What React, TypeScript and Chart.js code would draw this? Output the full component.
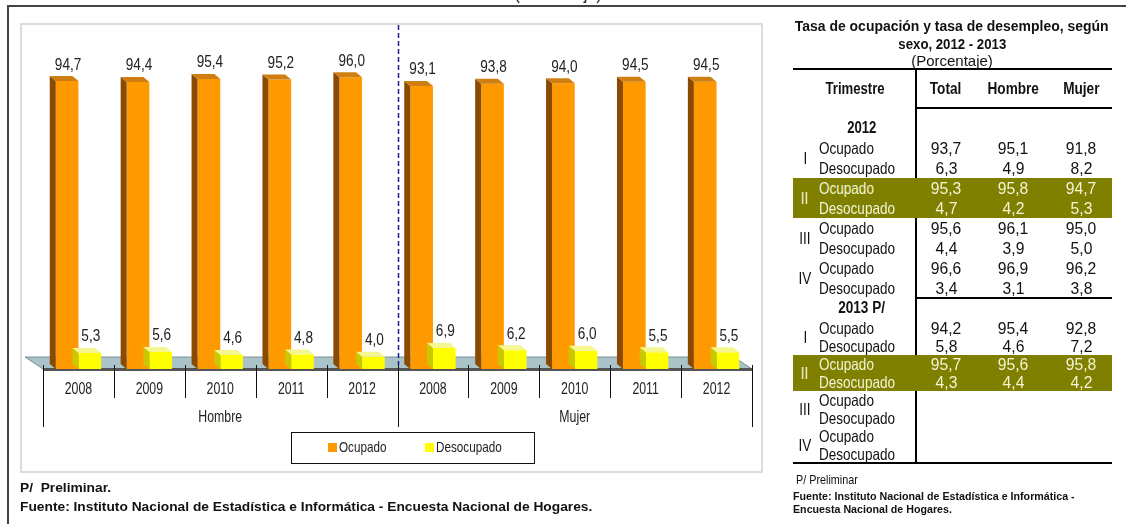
import React, { useEffect, useRef } from "react";
import { Chart, registerables } from "chart.js";

Chart.register(...registerables);

// ---------- DATA ----------
const years = ["2008", "2009", "2010", "2011", "2012", "2008", "2009", "2010", "2011", "2012"];
const groups = ["Hombre", "Mujer"];
const seriesNames = ["Ocupado", "Desocupado"];
const ocupado = [94.7, 94.4, 95.4, 95.2, 96.0, 93.1, 93.8, 94.0, 94.5, 94.5];
const desocupado = [5.3, 5.6, 4.6, 4.8, 4.0, 6.9, 6.2, 6.0, 5.5, 5.5];

const tableCols = ["Total", "Hombre", "Mujer"];
const quarters = ["I", "II", "III", "IV"];
const rowNames = ["Ocupado", "Desocupado"];
const ocup2012 = [[93.7, 95.1, 91.8], [95.3, 95.8, 94.7], [95.6, 96.1, 95.0], [96.6, 96.9, 96.2]];
const desoc2012 = [[6.3, 4.9, 8.2], [4.7, 4.2, 5.3], [4.4, 3.9, 5.0], [3.4, 3.1, 3.8]];
const ocup2013 = [[94.2, 95.4, 92.8], [95.7, 95.6, 95.8]];
const desoc2013 = [[5.8, 4.6, 7.2], [4.3, 4.4, 4.2]];

const SANS = "'Liberation Sans', Arial, sans-serif";
const fmt = (v: number) => v.toFixed(1).replace(".", ",");

const colors = {
  front: ["#ff9900", "#ffff00"],
  side: ["#8a4a00", "#c9c900"],
  top: ["#cf7f12", "#f6f690"],
};

function drawText(ctx: any, text: string, x: number, y: number, size: number, sx: number, align: string, baseline: string, color = "#222", bold = false) {
  ctx.save();
  ctx.translate(x, y);
  ctx.scale(sx, 1);
  ctx.font = `${bold ? "bold " : ""}${size}px ${SANS}`;
  ctx.fillStyle = color;
  ctx.textAlign = align;
  ctx.textBaseline = baseline;
  ctx.fillText(text, 0, 0);
  ctx.restore();
}

const threeD = {
  id: "threeD",
  beforeDatasetsDraw(chart: any) {
    const { ctx, chartArea: ca } = chart;
    const yF = ca.bottom, yB = ca.bottom - 12, sh = 18;
    ctx.save();
    ctx.beginPath();
    ctx.moveTo(ca.left - sh, yB);
    ctx.lineTo(ca.right - sh, yB);
    ctx.lineTo(ca.right, yF);
    ctx.lineTo(ca.left, yF);
    ctx.closePath();
    ctx.fillStyle = "#a9c3c8";
    ctx.fill();
    ctx.strokeStyle = "#7a9095";
    ctx.lineWidth = 1;
    ctx.stroke();
    ctx.fillStyle = "#555";
    ctx.fillRect(ca.left, yF - 1, ca.right - ca.left, 3);
    ctx.restore();
  },
  afterDatasetsDraw(chart: any) {
    const { ctx } = chart;
    const dx = 6, dy = 5;
    ctx.save();
    chart.data.datasets.forEach((ds: any, di: number) => {
      const meta = chart.getDatasetMeta(di);
      meta.data.forEach((bar: any, i: number) => {
        const { x, y, width, base } = bar.getProps(["x", "y", "width", "base"], true);
        const l = x - width / 2, r = x + width / 2;
        ctx.beginPath();
        ctx.moveTo(l, y);
        ctx.lineTo(l, base);
        ctx.lineTo(l - dx, base - dy);
        ctx.lineTo(l - dx, y - dy);
        ctx.closePath();
        ctx.fillStyle = colors.side[di];
        ctx.fill();
        ctx.beginPath();
        ctx.moveTo(l, y);
        ctx.lineTo(r, y);
        ctx.lineTo(r - dx, y - dy);
        ctx.lineTo(l - dx, y - dy);
        ctx.closePath();
        ctx.fillStyle = colors.top[di];
        ctx.fill();
        drawText(ctx, fmt(ds.data[i]), x + 1, y - dy - 3, 16, 0.85, "center", "bottom");
      });
    });
    ctx.restore();
  },
  afterDraw(chart: any) {
    const { ctx, chartArea: ca } = chart;
    const xs = chart.scales.x;
    const labels = xs.getLabels();
    const n = labels.length;
    const per = n / groups.length;
    ctx.save();
    ctx.strokeStyle = "#111";
    ctx.lineWidth = 1;
    for (let i = 0; i <= n; i++) {
      const px = Math.round(xs.getPixelForValue(i - 0.5)) + 0.5;
      const isGroup = i % per === 0;
      ctx.beginPath();
      ctx.moveTo(px, ca.bottom - 4);
      ctx.lineTo(px, ca.bottom + (isGroup ? 58 : 29));
      ctx.stroke();
    }
    // category labels
    labels.forEach((lab: string, i: number) => {
      drawText(ctx, lab, xs.getPixelForTick(i), ca.bottom + 21, 16, 0.77, "center", "middle");
    });
    // dashed separator between groups
    const sep = Math.round(xs.getPixelForValue(per - 0.5)) + 0.5;
    ctx.strokeStyle = "#1a1a8c";
    ctx.lineWidth = 1.5;
    ctx.setLineDash([5, 3]);
    ctx.beginPath();
    ctx.moveTo(sep, 25);
    ctx.lineTo(sep, ca.bottom - 4);
    ctx.stroke();
    ctx.setLineDash([]);
    // group labels
    groups.forEach((g, gi) => {
      const a = xs.getPixelForValue(gi * per - 0.5);
      const b = xs.getPixelForValue((gi + 1) * per - 0.5);
      drawText(ctx, g, (a + b) / 2, ca.bottom + 49, 16, 0.77, "center", "middle");
    });
    // legend box
    const bx = 291, by = 432, bw = 243, bh = 31;
    ctx.strokeStyle = "#111";
    ctx.lineWidth = 1;
    ctx.strokeRect(bx + 0.5, by + 0.5, bw, bh);
    const items = [bx + 37, bx + 134];
    chart.data.datasets.forEach((ds: any, di: number) => {
      const lx = items[di];
      ctx.fillStyle = ds.backgroundColor;
      ctx.fillRect(lx, by + 11, 9, 9);
      drawText(ctx, ds.label, lx + 11, by + 16, 15, 0.78, "left", "middle");
    });
    ctx.restore();
  },
};

function N({ x, y, size = 16, sx = 1, align = "left", bold = false, color = "#111", children }: any) {
  const h = Math.round(size * 1.25);
  const W = 700;
  const left = align === "center" ? x - W / 2 : align === "right" ? x - W : x;
  return (
    <div
      style={{
        position: "absolute",
        left,
        top: y - h / 2,
        width: W,
        height: h,
        lineHeight: `${h}px`,
        textAlign: align,
        fontWeight: bold ? 700 : 400,
        fontSize: size,
        color,
        whiteSpace: "nowrap",
      }}
    >
      <span style={{ display: "inline-block", transform: `scaleX(${sx})`, transformOrigin: align === "center" ? "center" : align === "right" ? "right" : "left" }}>
        {children}
      </span>
    </div>
  );
}

const colX = [946, 1013, 1081];

function QuarterRows({ q, y0, gap, ocup, desoc, hl }: any) {
  const c = hl ? "#f3f3d6" : "#111";
  return (
    <>
      {hl && (
        <div style={{ position: "absolute", left: 793, top: y0 - gap / 2, width: 319, height: gap * 2, background: "#808000" }} />
      )}
      <N x={805} y={y0 + gap / 2} size={16.5} sx={0.82} align="center" color={c}>{q}</N>
      <N x={819} y={y0} size={16.5} sx={0.82} color={c}>{rowNames[0]}</N>
      <N x={819} y={y0 + gap} size={16.5} sx={0.82} color={c}>{rowNames[1]}</N>
      {ocup && ocup.map((v: number, k: number) => (
        <N key={"o" + k} x={colX[k]} y={y0} size={16.5} sx={0.95} align="center" color={c}>{fmt(v)}</N>
      ))}
      {desoc && desoc.map((v: number, k: number) => (
        <N key={"d" + k} x={colX[k]} y={y0 + gap} size={16.5} sx={0.95} align="center" color={c}>{fmt(v)}</N>
      ))}
    </>
  );
}

export default function App() {
  const ref = useRef<HTMLCanvasElement>(null);
  useEffect(() => {
    const chart = new Chart(ref.current as HTMLCanvasElement, {
      type: "bar",
      data: {
        labels: years,
        datasets: [
          { label: seriesNames[0], data: ocupado, backgroundColor: colors.front[0] },
          { label: seriesNames[1], data: desocupado, backgroundColor: colors.front[1] },
        ],
      },
      options: {
        responsive: false,
        animation: false,
        layout: { padding: { left: 43, right: 28, top: 65, bottom: 0 } },
        datasets: { bar: { categoryPercentage: 0.64, barPercentage: 1 } },
        plugins: { legend: { display: false }, tooltip: { enabled: false } },
        scales: {
          x: {
            grid: { display: false },
            border: { display: false },
            ticks: { display: false },
            afterFit: (s: any) => { s.height = 155; },
          },
          y: { display: false, min: 0, max: 100 },
        },
      },
      plugins: [threeD],
    });
    return () => chart.destroy();
  }, []);

  return (
    <div style={{ position: "absolute", left: 0, top: 0, width: 1126, height: 524, background: "#fff", overflow: "hidden", fontFamily: SANS, color: "#111" }}>
      {/* outer frame */}
      <div style={{ position: "absolute", left: 7, top: 5, width: 1125, height: 530, borderLeft: "2px solid #444", borderTop: "2px solid #444" }} />
      <N x={558} y={-5} size={16} sx={1} align="center">(Porcentaje)</N>
      {/* chart panel */}
      <div style={{ position: "absolute", left: 20, top: 23, width: 739, height: 446, border: "2px solid #dcdcdc" }} />
      <canvas ref={ref} width={780} height={524} style={{ position: "absolute", left: 0, top: 0 }} />
      {/* notes */}
      <N x={20} y={487} bold size={13.5} sx={1.02}>P/&nbsp; Preliminar.</N>
      <N x={20} y={506} bold size={13.5} sx={1.02}>Fuente: Instituto Nacional de Estadística e Informática - Encuesta Nacional de Hogares.</N>

      {/* table */}
      <N x={952} y={25} align="center" bold size={15} sx={0.93}>Tasa de ocupación y tasa de desempleo, según</N>
      <N x={952} y={43} align="center" bold size={15} sx={0.88}>sexo, 2012 - 2013</N>
      <N x={952} y={60} align="center" size={15} sx={1}>(Porcentaje)</N>
      <div style={{ position: "absolute", left: 793, top: 68, width: 319, height: 2, background: "#000" }} />
      <div style={{ position: "absolute", left: 915, top: 69, width: 2, height: 395, background: "#000" }} />
      <div style={{ position: "absolute", left: 916, top: 107, width: 196, height: 2, background: "#000" }} />
      <N x={855} y={89} align="center" bold size={16} sx={0.82}>Trimestre</N>
      {tableCols.map((c, k) => (
        <N key={c} x={colX[k]} y={89} align="center" bold size={16} sx={0.85}>{c}</N>
      ))}
      <N x={862} y={128} align="center" bold size={16} sx={0.82}>2012</N>
      {quarters.map((q, k) => (
        <QuarterRows key={"a" + q} q={q} y0={148 + 40 * k} gap={20} ocup={ocup2012[k]} desoc={desoc2012[k]} hl={k === 1} />
      ))}
      <div style={{ position: "absolute", left: 916, top: 297, width: 196, height: 2, background: "#000" }} />
      <N x={862} y={308} align="center" bold size={16} sx={0.85}>2013 P/</N>
      {quarters.map((q, k) => (
        <QuarterRows key={"b" + q} q={q} y0={328 + 36 * k} gap={18} ocup={ocup2013[k]} desoc={desoc2013[k]} hl={k === 1} />
      ))}
      <div style={{ position: "absolute", left: 793, top: 462, width: 319, height: 2, background: "#000" }} />
      <N x={796} y={480} size={13} sx={0.83}>P/ Preliminar</N>
      <N x={793} y={496} bold size={11} sx={0.97}>Fuente: Instituto Nacional de Estadística e Informática -</N>
      <N x={793} y={509} bold size={11} sx={0.97}>Encuesta Nacional de Hogares.</N>
    </div>
  );
}
